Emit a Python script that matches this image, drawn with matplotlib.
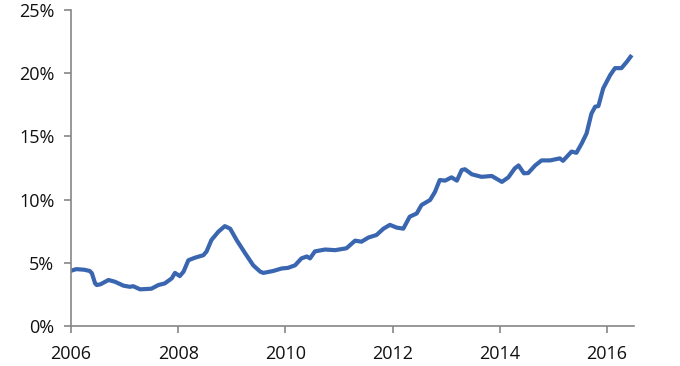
import matplotlib
matplotlib.use("Agg")
import matplotlib.pyplot as plt
from matplotlib.ticker import FuncFormatter

# decimal year of each reading, and the value in percent
years = [2006.00, 2006.10, 2006.25, 2006.35, 2006.39, 2006.45, 2006.48, 2006.55,
         2006.70, 2006.82, 2006.98, 2007.10, 2007.16, 2007.29, 2007.50, 2007.63,
         2007.75, 2007.88, 2007.94, 2008.03, 2008.10, 2008.19, 2008.31, 2008.47,
         2008.53, 2008.62, 2008.75, 2008.87, 2008.97, 2009.09, 2009.25, 2009.40,
         2009.53, 2009.59, 2009.77, 2009.93, 2010.05, 2010.18, 2010.30, 2010.40,
         2010.46, 2010.55, 2010.74, 2010.93, 2011.14, 2011.30, 2011.42, 2011.55,
         2011.70, 2011.83, 2011.95, 2012.08, 2012.20, 2012.32, 2012.45, 2012.54,
         2012.70, 2012.79, 2012.88, 2012.98, 2013.10, 2013.20, 2013.29, 2013.35,
         2013.48, 2013.66, 2013.85, 2014.04, 2014.16, 2014.28, 2014.35, 2014.45,
         2014.53, 2014.66, 2014.78, 2014.94, 2015.12, 2015.18, 2015.34, 2015.43,
         2015.53, 2015.62, 2015.71, 2015.78, 2015.84, 2015.93, 2016.06, 2016.15,
         2016.27, 2016.37, 2016.44]
values = [4.37, 4.50, 4.45, 4.35, 4.17, 3.37, 3.24, 3.30,
          3.64, 3.50, 3.19, 3.10, 3.15, 2.90, 2.95, 3.24,
          3.37, 3.77, 4.20, 3.95, 4.30, 5.20, 5.40, 5.60,
          5.90, 6.80, 7.46, 7.90, 7.70, 6.80, 5.75, 4.80,
          4.30, 4.20, 4.35, 4.55, 4.60, 4.80, 5.35, 5.50,
          5.35, 5.90, 6.05, 6.00, 6.15, 6.75, 6.67, 7.00,
          7.20, 7.70, 8.00, 7.78, 7.70, 8.65, 8.90, 9.57,
          9.97, 10.60, 11.55, 11.50, 11.76, 11.50, 12.34, 12.40,
          12.00, 11.80, 11.87, 11.40, 11.76, 12.47, 12.70, 12.08,
          12.10, 12.70, 13.10, 13.10, 13.26, 13.07, 13.80, 13.70,
          14.45, 15.24, 16.80, 17.35, 17.40, 18.80, 19.85, 20.40,
          20.40, 20.90, 21.30]

x_ticks = [2006, 2008, 2010, 2012, 2014, 2016]
y_ticks = [0, 5, 10, 15, 20, 25]

plt.rcParams['font.family'] = ['Open Sans', 'DejaVu Sans']

fig = plt.figure(figsize=(6.8, 3.66), dpi=100)
ax = fig.add_axes([0.1044, 0.1093, 0.8276, 0.8634])
ax.plot(years, values, color='#3A66B0', lw=3, solid_joinstyle='round')

ax.set_xlim(2006, 2016.5)
ax.set_ylim(0, 25)
ax.set_xticks(x_ticks)
ax.set_yticks(y_ticks)
ax.yaxis.set_major_formatter(FuncFormatter(lambda v, p: f'{v:.0f}%'))

for s in ['top', 'right']:
    ax.spines[s].set_visible(False)
for s in ['left', 'bottom']:
    ax.spines[s].set_color('#868686')
    ax.spines[s].set_linewidth(1.2)
ax.tick_params(direction='out', length=5, width=1.2, color='#868686',
               labelsize=13, labelcolor='#111111')
ax.tick_params(axis='y', pad=7)
ax.tick_params(axis='x', pad=9)

fig.savefig('out.png', dpi=100)
